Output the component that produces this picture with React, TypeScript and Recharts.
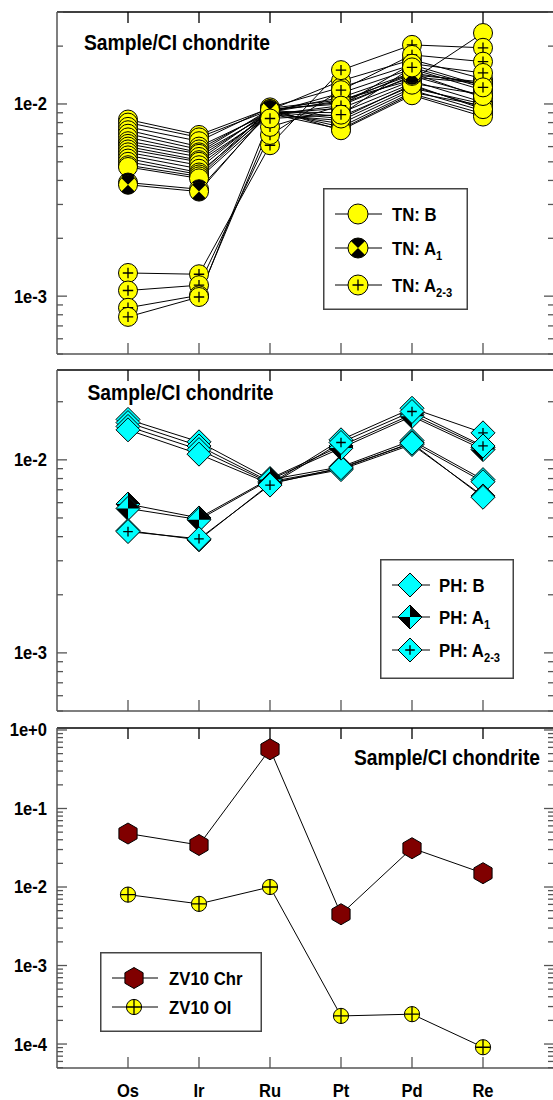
import { Legend, Line, LineChart, XAxis, YAxis } from 'recharts';

const elements = ['Os', 'Ir', 'Ru', 'Pt', 'Pd', 'Re'];
const positions = [0, 1, 2, 3, 4, 5];

// Sample/CI chondrite, values x 1e-3, order Os Ir Ru Pt Pd Re
const unit = 1e-3;
const tnB = [
  [8.3, 6.9, 9.5, 10.5, 13.3, 23.4],
  [8.0, 6.7, 9.3, 13.2, 17.0, 13.5],
  [7.6, 6.4, 9.6, 12.2, 16.0, 12.4],
  [7.3, 6.0, 9.0, 11.4, 15.2, 11.8],
  [7.0, 5.8, 9.2, 10.8, 14.5, 10.8],
  [6.7, 5.6, 9.4, 10.0, 13.8, 12.8],
  [6.4, 5.5, 8.9, 9.5, 13.2, 10.2],
  [6.2, 5.3, 9.1, 9.0, 12.8, 11.2],
  [6.0, 5.1, 9.3, 8.6, 12.4, 9.6],
  [5.8, 5.0, 8.8, 8.2, 12.1, 10.0],
  [5.6, 4.8, 9.0, 7.9, 11.8, 9.2],
  [5.4, 4.6, 9.2, 7.6, 11.5, 9.8],
  [5.2, 4.4, 8.9, 7.4, 11.3, 8.9],
  [5.0, 4.3, 9.4, 7.3, 11.1, 8.6],
  [4.8, 4.2, 9.1, 8.4, 12.6, 9.4],
  [4.7, 4.1, 8.8, 9.8, 14.0, 11.0],
];
const tnA1 = [
  [3.9, 3.6, 9.1, 10.4, 14.2, 13.0],
  [3.8, 3.5, 9.3, 10.2, 14.5, 12.7],
];
const tnA23 = [
  [1.32, 1.3, 6.1, 15.0, 20.3, 19.6],
  [1.07, 1.14, 6.9, 11.8, 18.0, 16.6],
  [0.87, 1.01, 7.6, 9.8, 16.2, 14.5],
  [0.78, 0.99, 8.4, 8.8, 15.5, 12.2],
];

const phB = [
  [16.2, 12.4, 7.9, 9.2, 12.6, 7.9],
  [15.6, 11.8, 7.7, 9.0, 12.3, 7.7],
  [14.9, 11.3, 7.6, 8.9, 12.0, 6.5],
  [14.3, 10.7, 7.5, 9.1, 12.2, 6.4],
];
const phA1 = [
  [5.9, 5.0, 8.0, 11.8, 17.2, 11.6],
  [5.6, 4.9, 7.9, 11.5, 16.8, 11.3],
];
const phA23 = [
  [4.3, 3.85, 7.5, 12.7, 18.5, 13.8],
  [4.25, 3.9, 7.4, 12.3, 17.8, 11.8],
];

const zv10Chr = [0.048, 0.0343, 0.568, 0.0045, 0.0312, 0.015];
const zv10Ol = [0.008, 0.0061, 0.01, 0.000228, 0.00024, 0.000091];

const tnTicks = [5e-4, 6e-4, 7e-4, 8e-4, 9e-4, 1e-3, 2e-3, 3e-3, 4e-3, 5e-3, 6e-3, 7e-3, 8e-3, 9e-3, 1e-2, 2e-2, 3e-2];
const phTicks = [5e-4, 6e-4, 7e-4, 8e-4, 9e-4, 1e-3, 2e-3, 3e-3, 4e-3, 5e-3, 6e-3, 7e-3, 8e-3, 9e-3, 1e-2, 2e-2];
const zvTicks = [
  5e-5, 6e-5, 7e-5, 8e-5, 9e-5,
  1e-4, 2e-4, 3e-4, 4e-4, 5e-4, 6e-4, 7e-4, 8e-4, 9e-4,
  1e-3, 2e-3, 3e-3, 4e-3, 5e-3, 6e-3, 7e-3, 8e-3, 9e-3,
  1e-2, 2e-2, 3e-2, 4e-2, 5e-2, 6e-2, 7e-2, 8e-2, 9e-2,
  0.1, 0.2, 0.3, 0.4, 0.5, 0.6, 0.7, 0.8, 0.9, 1,
];
const tnMajors = [1e-3, 1e-2];
const tnLabels = ['1e-3', '1e-2'];
const zvMajors = [1e-4, 1e-3, 1e-2, 1e-1, 1];
const zvLabels = ['1e-4', '1e-3', '1e-2', '1e-1', '1e+0'];

const YELLOW = '#ffff00';
const CYAN = '#00ffff';
const MAROON = '#800000';
const AXIS = '#555';
const FONT = '"Liberation Sans", Arial, Helvetica, sans-serif';

type Kind = 'plain' | 'half' | 'plus' | 'cross';

function CircleMark({ cx, cy, r, kind }: { cx: number; cy: number; r: number; kind: Kind }) {
  const a = r * Math.SQRT1_2;
  const p = kind === 'cross' ? r : r * 0.55;
  return (
    <g>
      <circle cx={cx} cy={cy} r={r} fill={YELLOW} stroke="#000" strokeWidth={1} />
      {kind === 'half' && (
        <path
          d={`M${cx},${cy} L${cx - a},${cy - a} A${r},${r} 0 0 1 ${cx + a},${cy - a} Z M${cx},${cy} L${cx + a},${cy + a} A${r},${r} 0 0 1 ${cx - a},${cy + a} Z`}
          fill="#000"
        />
      )}
      {(kind === 'plus' || kind === 'cross') && (
        <path d={`M${cx - p},${cy} H${cx + p} M${cx},${cy - p} V${cy + p}`} stroke="#000" strokeWidth={1.3} />
      )}
    </g>
  );
}

function DiamondMark({ cx, cy, h, kind }: { cx: number; cy: number; h: number; kind: Kind }) {
  const p = h * 0.4;
  return (
    <g>
      <path d={`M${cx},${cy - h} L${cx + h},${cy} L${cx},${cy + h} L${cx - h},${cy} Z`} fill={CYAN} stroke="#000" strokeWidth={1} />
      {kind === 'half' && (
        <path d={`M${cx},${cy} L${cx},${cy - h} L${cx + h},${cy} Z M${cx},${cy} L${cx},${cy + h} L${cx - h},${cy} Z`} fill="#000" />
      )}
      {kind === 'plus' && (
        <path d={`M${cx - p},${cy} H${cx + p} M${cx},${cy - p} V${cy + p}`} stroke="#000" strokeWidth={1.3} />
      )}
    </g>
  );
}

function HexMark({ cx, cy, r }: { cx: number; cy: number; r: number }) {
  const pts = [-90, -30, 30, 90, 150, 210]
    .map((d) => `${cx + r * Math.cos((d * Math.PI) / 180)},${cy + r * Math.sin((d * Math.PI) / 180)}`)
    .join(' ');
  return <polygon points={pts} fill={MAROON} stroke="#000" strokeWidth={1} />;
}

type Mark = (cx: number, cy: number) => JSX.Element;

const tnMark = (kind: Kind, r = 9.5): Mark => (cx, cy) => <CircleMark cx={cx} cy={cy} r={r} kind={kind} />;
const phMark = (kind: Kind, h = 12): Mark => (cx, cy) => <DiamondMark cx={cx} cy={cy} h={h} kind={kind} />;
const hexMark = (r = 10.5): Mark => (cx, cy) => <HexMark cx={cx} cy={cy} r={r} />;

type Group = { prefix: string; rows: number[][]; mark: Mark };

function buildRows(groups: { prefix: string; rows: number[][]; scale: number }[]) {
  return positions.map((x, i) => {
    const row: Record<string, number | string> = { x, el: elements[i] };
    groups.forEach((g) => g.rows.forEach((r, j) => (row[`${g.prefix}${j}`] = r[i] * g.scale)));
    return row;
  });
}

const tnData = buildRows([
  { prefix: 'tnB', rows: tnB, scale: unit },
  { prefix: 'tnA1', rows: tnA1, scale: unit },
  { prefix: 'tnA23', rows: tnA23, scale: unit },
]);
const phData = buildRows([
  { prefix: 'phB', rows: phB, scale: unit },
  { prefix: 'phA1', rows: phA1, scale: unit },
  { prefix: 'phA23', rows: phA23, scale: unit },
]);
const zvData = buildRows([
  { prefix: 'chr', rows: [zv10Chr], scale: 1 },
  { prefix: 'ol', rows: [zv10Ol], scale: 1 },
]);

function majorIndex(majors: number[], v: number) {
  return majors.findIndex((m) => Math.abs(m - v) / m < 1e-6);
}

function SideTick(props: any) {
  const { x, y, payload, majors, labels, side } = props;
  const idx = majorIndex(majors, payload.value);
  const len = idx >= 0 ? 10 : 6;
  const dir = side === 'left' ? 1 : -1;
  return (
    <g>
      <line x1={x} x2={x + dir * len} y1={y} y2={y} stroke={AXIS} strokeWidth={1.3} />
      {side === 'left' && idx >= 0 && (
        <text
          transform={`translate(${x - 10} ${y}) scale(0.92 1)`}
          textAnchor="end"
          dy="0.36em"
          fontFamily={FONT}
          fontWeight="bold"
          fontSize={18}
          fill="#000"
        >
          {labels[idx]}
        </text>
      )}
    </g>
  );
}

function CatTick(props: any) {
  const { x, y, payload, side, showLabel } = props;
  const dir = side === 'top' ? 1 : -1;
  return (
    <g>
      <line x1={x} x2={x} y1={y} y2={y + dir * 11} stroke={side === 'top' ? '#000' : AXIS} strokeWidth={1.3} />
      {showLabel && (
        <text
          transform={`translate(${x} ${y + 29}) scale(0.92 1)`}
          textAnchor="middle"
          fontFamily={FONT}
          fontWeight="bold"
          fontSize={18}
          fill="#000"
        >
          {elements[payload.value]}
        </text>
      )}
    </g>
  );
}

type LegendItem = { label: string; sub?: string; mark: Mark };

function LegendBox({ w, h, items, markX, lineX1, lineX2, textX, rowY }: {
  w: number; h: number; items: LegendItem[]; markX: number; lineX1: number; lineX2: number; textX: number; rowY: number[];
}) {
  return (
    <svg width={w} height={h} style={{ display: 'block' }}>
      <rect x={0.75} y={0.75} width={w - 1.5} height={h - 1.5} fill="#fff" stroke="#444" strokeWidth={1.5} />
      {items.map((it, i) => (
        <g key={it.label + (it.sub ?? '')}>
          <line x1={lineX1} x2={lineX2} y1={rowY[i]} y2={rowY[i]} stroke="#000" strokeWidth={1} />
          {it.mark(markX, rowY[i])}
          <text
            transform={`translate(${textX} ${rowY[i] + 7}) scale(0.93 1)`}
            fontFamily={FONT}
            fontWeight="bold"
            fontSize={18}
            fill="#000"
          >
            {it.label}
            {it.sub && (
              <tspan fontSize={12} dy={5}>
                {it.sub}
              </tspan>
            )}
          </text>
        </g>
      ))}
    </svg>
  );
}

function Panel({
  top, height, axisH, data, groups, domain, ticks, majors, labels, showX, title, legend,
}: {
  top: number; height: number; axisH: number; data: Record<string, number | string>[]; groups: Group[];
  domain: [number, number]; ticks: number[]; majors: number[]; labels: string[]; showX: boolean;
  title: { x: number; y: number; anchor: 'start' | 'end' };
  legend: { left: number; top: number; w: number; h: number; box: JSX.Element };
}) {
  const keys = groups.flatMap((g) => g.rows.map((_, j) => ({ key: `${g.prefix}${j}`, mark: g.mark })));
  return (
    <div style={{ position: 'absolute', left: 0, top }}>
      <LineChart width={560} height={height} data={data} margin={{ top: 11, right: 0, bottom: 0, left: 0 }}>
        <XAxis
          xAxisId="b"
          orientation="bottom"
          type="number"
          dataKey="x"
          domain={[-1, 6]}
          ticks={positions}
          interval={0}
          height={axisH}
          tickSize={0}
          tickMargin={0}
          tickLine={false}
          axisLine={{ stroke: AXIS, strokeWidth: 1.5 }}
          tick={(p: any) => <CatTick {...p} side="bottom" showLabel={showX} />}
        />
        <XAxis
          xAxisId="t"
          orientation="top"
          type="number"
          dataKey="x"
          domain={[-1, 6]}
          ticks={positions}
          interval={0}
          height={1}
          tickSize={0}
          tickMargin={0}
          tickLine={false}
          axisLine={{ stroke: '#000', strokeWidth: 1.3 }}
          tick={(p: any) => <CatTick {...p} side="top" showLabel={false} />}
        />
        <YAxis
          yAxisId="l"
          orientation="left"
          type="number"
          scale="log"
          domain={domain}
          allowDataOverflow
          ticks={ticks}
          interval={0}
          width={57}
          tickSize={0}
          tickMargin={0}
          tickLine={false}
          axisLine={{ stroke: AXIS, strokeWidth: 1.5 }}
          tick={(p: any) => <SideTick {...p} side="left" majors={majors} labels={labels} />}
        />
        <YAxis
          yAxisId="r"
          orientation="right"
          type="number"
          scale="log"
          domain={domain}
          allowDataOverflow
          ticks={ticks}
          interval={0}
          width={6}
          tickSize={0}
          tickMargin={0}
          tickLine={false}
          axisLine={{ stroke: AXIS, strokeWidth: 1.5 }}
          tick={(p: any) => <SideTick {...p} side="right" majors={majors} labels={labels} />}
        />
        {keys.map((k) => (
          <Line
            key={`line-${k.key}`}
            xAxisId="b"
            yAxisId="l"
            dataKey={k.key}
            stroke="#000"
            strokeWidth={1}
            dot={false}
            activeDot={false}
            legendType="none"
            isAnimationActive={false}
          />
        ))}
        {keys.map((k) => (
          <Line
            key={`dot-${k.key}`}
            xAxisId="b"
            yAxisId="l"
            dataKey={k.key}
            stroke="none"
            dot={(p: any) =>
              p.cx == null || p.cy == null ? <g key={`${k.key}-${p.index}`} /> : <g key={`${k.key}-${p.index}`}>{k.mark(p.cx, p.cy)}</g>
            }
            activeDot={false}
            legendType="none"
            isAnimationActive={false}
          />
        ))}
        <text
          transform={`translate(${title.x} ${title.y}) scale(0.875 1)`}
          textAnchor={title.anchor}
          fontFamily={FONT}
          fontWeight="bold"
          fontSize={22}
          fill="#000"
        >
          Sample/CI chondrite
        </text>
        <Legend
          layout="vertical"
          align="center"
          verticalAlign="middle"
          wrapperStyle={{ left: legend.left, top: legend.top, width: legend.w, height: legend.h }}
          content={() => legend.box}
        />
      </LineChart>
    </div>
  );
}

const tnGroups: Group[] = [
  { prefix: 'tnB', rows: tnB, mark: tnMark('plain') },
  { prefix: 'tnA1', rows: tnA1, mark: tnMark('half') },
  { prefix: 'tnA23', rows: tnA23, mark: tnMark('plus') },
];
const phGroups: Group[] = [
  { prefix: 'phB', rows: phB, mark: phMark('plain') },
  { prefix: 'phA1', rows: phA1, mark: phMark('half') },
  { prefix: 'phA23', rows: phA23, mark: phMark('plus') },
];
const zvGroups: Group[] = [
  { prefix: 'chr', rows: [zv10Chr], mark: hexMark() },
  { prefix: 'ol', rows: [zv10Ol], mark: (cx, cy) => <CircleMark cx={cx} cy={cy} r={7.6} kind="cross" /> },
];

export default function App() {
  return (
    <div style={{ position: 'relative', width: 553, height: 1100, overflow: 'hidden', background: '#fff' }}>
      <style>{'body{margin:0}'}</style>
      <Panel
        top={0}
        height={360}
        axisH={6}
        data={tnData}
        groups={tnGroups}
        domain={[5e-4, 0.0301]}
        ticks={tnTicks}
        majors={tnMajors}
        labels={tnLabels}
        showX={false}
        title={{ x: 84, y: 50, anchor: 'start' }}
        legend={{
          left: 323,
          top: 188,
          w: 145,
          h: 122,
          box: (
            <LegendBox
              w={145}
              h={122}
              markX={35}
              lineX1={12}
              lineX2={59}
              textX={69}
              rowY={[26, 60, 97]}
              items={[
                { label: 'TN: B', mark: tnMark('plain', 10) },
                { label: 'TN: A', sub: '1', mark: tnMark('half', 10) },
                { label: 'TN: A', sub: '2-3', mark: tnMark('plus', 10) },
              ]}
            />
          ),
        }}
      />
      <Panel
        top={358}
        height={359}
        axisH={6}
        data={phData}
        groups={phGroups}
        domain={[5e-4, 0.0292]}
        ticks={phTicks}
        majors={tnMajors}
        labels={tnLabels}
        showX={false}
        title={{ x: 87.5, y: 42, anchor: 'start' }}
        legend={{
          left: 380,
          top: 201,
          w: 134,
          h: 120,
          box: (
            <LegendBox
              w={134}
              h={120}
              markX={30}
              lineX1={12}
              lineX2={50}
              textX={59}
              rowY={[26, 58, 91]}
              items={[
                { label: 'PH: B', mark: phMark('plain') },
                { label: 'PH: A', sub: '1', mark: phMark('half') },
                { label: 'PH: A', sub: '2-3', mark: phMark('plus') },
              ]}
            />
          ),
        }}
      />
      <Panel
        top={716}
        height={384}
        axisH={32}
        data={zvData}
        groups={zvGroups}
        domain={[4.95e-5, 1.06]}
        ticks={zvTicks}
        majors={zvMajors}
        labels={zvLabels}
        showX
        title={{ x: 540, y: 49, anchor: 'end' }}
        legend={{
          left: 100,
          top: 236,
          w: 162,
          h: 80,
          box: (
            <LegendBox
              w={162}
              h={80}
              markX={34}
              lineX1={12}
              lineX2={58}
              textX={69}
              rowY={[26, 55]}
              items={[
                { label: 'ZV10 Chr', mark: hexMark() },
                { label: 'ZV10 Ol', mark: (cx, cy) => <CircleMark cx={cx} cy={cy} r={7.6} kind="cross" /> },
              ]}
            />
          ),
        }}
      />
    </div>
  );
}
